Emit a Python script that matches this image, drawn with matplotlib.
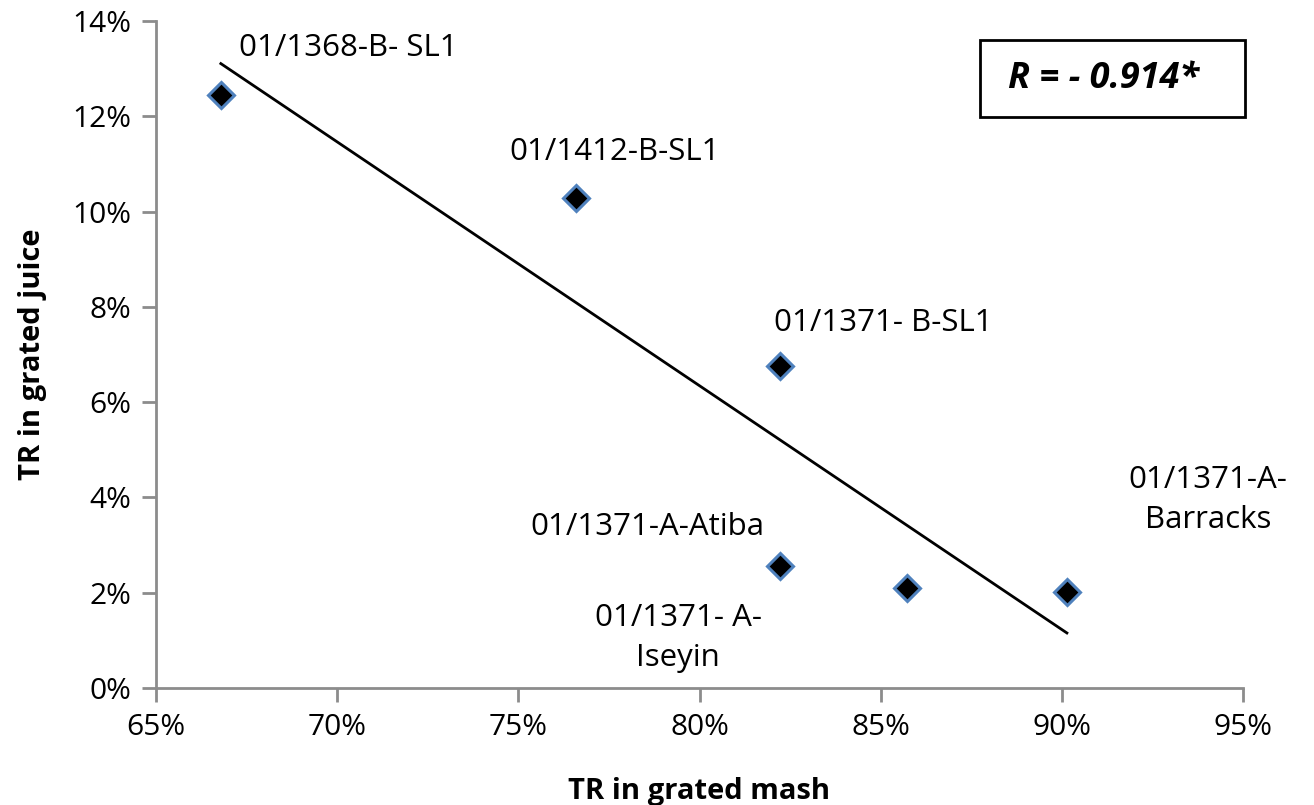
import numpy as np
import matplotlib.pyplot as plt
from matplotlib.patches import Rectangle
from matplotlib.ticker import PercentFormatter

# TR values (fractions)
mash = [0.6679, 0.7658, 0.8223, 0.8222, 0.8573, 0.9014]
juice = [0.1245, 0.1029, 0.0676, 0.0256, 0.0210, 0.0202]
names = ["01/1368-B- SL1", "01/1412-B-SL1", "01/1371- B-SL1",
         "01/1371-A-Atiba", "01/1371- A-\nIseyin", "01/1371-A-\nBarracks"]
# label offsets in pixels from each point
offsets = [(18, 47, 'left'), (39, 46, 'center'), (103, 43, 'center'),
           (-133, 39, 'center'), (-229, -50, 'center'), (141, 92, 'center')]
r_text = "R = - 0.914*"

plt.rcParams['font.family'] = ['Open Sans', 'DejaVu Sans']

fig = plt.figure(figsize=(13.14, 8.05), dpi=100)
ax = fig.add_axes([156/1314, 1 - 688/805, (1243 - 156)/1314, (688 - 21)/805])

# linear trendline
slope, inter = np.polyfit(mash, juice, 1)
xs = np.array([min(mash), max(mash)])
ax.plot(xs, slope*xs + inter, color='black', lw=2, zorder=2)

ax.plot(mash, juice, linestyle='none', marker='D', markersize=13,
        markerfacecolor='black', markeredgecolor='#4f81bd', markeredgewidth=2.2, zorder=3)

for x, y, n, (dx, dy, ha) in zip(mash, juice, names, offsets):
    ax.annotate(n, (x, y), xytext=(dx, dy), textcoords='offset pixels',
                ha=ha, va='center', fontsize=22.5, linespacing=1.42)

ax.set_xlim(0.65, 0.95)
ax.set_ylim(0, 0.14)
ax.set_xticks(np.arange(0.65, 0.951, 0.05))
ax.set_yticks(np.arange(0, 0.141, 0.02))
ax.xaxis.set_major_formatter(PercentFormatter(1.0, decimals=0))
ax.yaxis.set_major_formatter(PercentFormatter(1.0, decimals=0))

for s in ['top', 'right']:
    ax.spines[s].set_visible(False)
for s in ['left', 'bottom']:
    ax.spines[s].set_color('#8c8c8c')
    ax.spines[s].set_linewidth(2)
ax.tick_params(axis='both', direction='out', length=10, width=2, color='#8c8c8c',
               labelsize=21.5, pad=8)

ax.set_xlabel("TR in grated mash", fontsize=21, fontweight='bold', labelpad=25)
ax.set_ylabel("TR in grated juice", fontsize=21, fontweight='bold', labelpad=18)

fig.patches.append(Rectangle((980/1314, 1 - 117/805), 265/1314, 77/805,
                             transform=fig.transFigure, fill=False,
                             edgecolor='black', lw=2))
fig.text(1103/1314, 1 - 79/805, r_text, ha='center', va='center',
         fontsize=26, fontweight='bold', fontstyle='italic')

fig.savefig("out.png", dpi=100)
